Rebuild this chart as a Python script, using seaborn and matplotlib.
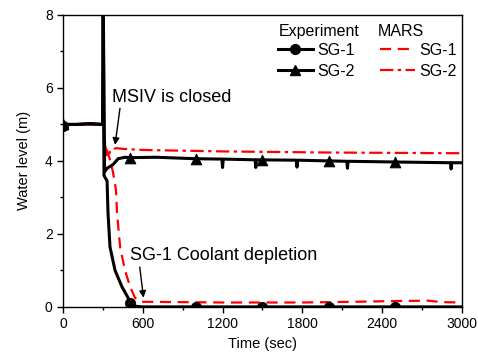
import numpy as np
import pandas as pd
import seaborn as sns
import matplotlib
matplotlib.use("Agg")
import matplotlib.pyplot as plt
from matplotlib.lines import Line2D

# Experiment, SG-1 (black solid, circles)
exp1_t = [0, 100, 200, 298, 302, 308, 331, 338, 353, 391, 443, 489, 504, 540, 600, 1000, 1500, 2000, 2500, 3000]
exp1_y = [5.0, 5.0, 5.02, 5.0, 8.6, 3.6, 3.45, 2.57, 1.64, 1.0, 0.55, 0.25, 0.1, 0.02, 0.0, 0.0, 0.0, 0.0, 0.0, 0.0]
exp1_mark_t = [0, 500, 1000, 1500, 2000, 2500]
exp1_mark_y = [4.97, 0.1, 0.0, 0.0, 0.0, 0.0]

# Experiment, SG-2 (black solid, triangles)
exp2_t = [0, 100, 200, 298, 302, 312, 331, 376, 414, 466, 500, 700, 1000,
          1195, 1200, 1205, 1445, 1450, 1455, 1755, 1760, 1765,
          2000, 2135, 2140, 2145, 2500, 2915, 2920, 2925, 3000]
exp2_y = [5.0, 5.0, 5.02, 5.0, 8.6, 3.7, 3.8, 3.9, 4.06, 4.1, 4.09, 4.1, 4.06,
          4.05, 3.82, 4.05, 4.03, 3.82, 4.03, 4.02, 3.83, 4.02,
          4.0, 3.99, 3.8, 3.99, 3.97, 3.95, 3.78, 3.95, 3.95]
exp2_mark_t = [0, 500, 1000, 1500, 2000, 2500]
exp2_mark_y = [5.0, 4.08, 4.06, 4.03, 4.0, 3.97]

# MARS, SG-1 (red dashed)
mars1_t = [0, 298, 300, 310, 330, 353, 375, 398, 406, 429, 466, 504, 541, 580, 600, 1200, 1800, 2200, 2500, 2750, 2850, 3000]
mars1_y = [5.0, 5.0, 6.3, 4.6, 4.3, 4.03, 3.7, 3.2, 2.57, 1.64, 1.0, 0.55, 0.25, 0.15, 0.14, 0.12, 0.12, 0.14, 0.16, 0.17, 0.13, 0.12]

# MARS, SG-2 (red dash-dot)
mars2_t = [0, 298, 300, 306, 318, 335, 360, 400, 450, 600, 1200, 2000, 3000]
mars2_y = [5.0, 5.0, 6.3, 4.6, 4.4, 4.1, 4.3, 4.35, 4.33, 4.3, 4.26, 4.23, 4.21]

plt.rcParams['font.family'] = ['Liberation Sans', 'DejaVu Sans']

fig = plt.figure(figsize=(4.78, 3.56), dpi=100)
ax = fig.add_axes([0.132, 0.138, 0.834, 0.82])

sns.lineplot(x=mars1_t, y=mars1_y, ax=ax, color='red', lw=1.6, sort=False,
             linestyle=(0, (5, 3)), zorder=2)
sns.lineplot(x=mars2_t, y=mars2_y, ax=ax, color='red', lw=1.6, sort=False,
             linestyle=(0, (6, 2, 1.5, 2)), zorder=2)
sns.lineplot(x=exp1_t, y=exp1_y, ax=ax, color='black', lw=2.2, sort=False, zorder=3)
sns.lineplot(x=exp2_t, y=exp2_y, ax=ax, color='black', lw=2.2, sort=False, zorder=3)
sns.scatterplot(x=exp2_mark_t, y=exp2_mark_y, ax=ax, color='black', marker='^', s=60,
                edgecolor='black', zorder=4)
sns.scatterplot(x=exp1_mark_t, y=exp1_mark_y, ax=ax, color='black', marker='o', s=55,
                edgecolor='black', zorder=4)

ax.set_xlim(0, 3000)
ax.set_ylim(0, 8)
ax.set_xticks([0, 600, 1200, 1800, 2400, 3000])
ax.set_xticks([300, 900, 1500, 2100, 2700], minor=True)
ax.set_yticks([0, 2, 4, 6, 8])
ax.set_yticks([1, 3, 5, 7], minor=True)
ax.tick_params(axis='both', which='major', labelsize=10, length=4, width=1, direction='out')
ax.tick_params(axis='both', which='minor', length=2.5, width=1, direction='out')
for s in ax.spines.values():
    s.set_linewidth(1.0)
ax.set_xlabel('Time (sec)', fontsize=10.5)
ax.set_ylabel('Water level (m)', fontsize=10.5, labelpad=10)

ax.annotate('MSIV is closed', xy=(391, 4.44), xytext=(368, 5.75), fontsize=13,
            va='center', ha='left',
            arrowprops=dict(arrowstyle='-|>', color='black', lw=1, mutation_scale=10,
                            shrinkA=0, shrinkB=0, relpos=(0.07, 0)))
ax.annotate('SG-1 Coolant depletion', xy=(605, 0.25), xytext=(504, 1.4), fontsize=13,
            va='center', ha='left',
            arrowprops=dict(arrowstyle='-|>', color='black', lw=1, mutation_scale=10,
                            shrinkA=0, shrinkB=0, relpos=(0.05, 0)))

handles = [
    Line2D([], [], color='black', lw=2.2, marker='o', ms=7),
    Line2D([], [], color='black', lw=2.2, marker='^', ms=7.5),
    Line2D([], [], color='red', lw=1.6, linestyle=(0, (5, 3))),
    Line2D([], [], color='red', lw=1.6, linestyle=(0, (6, 2, 1.5, 2))),
]
labels = ['SG-1', 'SG-2', 'SG-1', 'SG-2']
ax.legend(handles, labels, ncol=2, frameon=False, fontsize=11.5,
          loc='upper left', bbox_to_anchor=(0.538, 0.905),
          handlelength=2.2, handletextpad=0.3, columnspacing=1.55,
          labelspacing=0.38, borderaxespad=0, borderpad=0)
ax.text(0.541, 0.945, 'Experiment', transform=ax.transAxes, fontsize=11.5, va='center', ha='left')
ax.text(0.789, 0.945, 'MARS', transform=ax.transAxes, fontsize=11.5, va='center', ha='left')

fig.savefig('out.png', dpi=100)
